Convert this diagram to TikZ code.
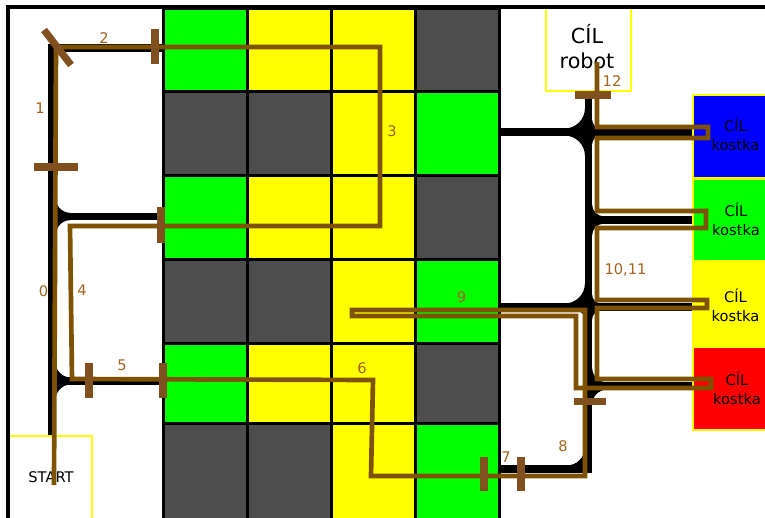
\documentclass[tikz,border=0pt]{standalone}
\usepackage{fontspec}
\setmainfont{DejaVu Sans}
\usetikzlibrary{calc}
\definecolor{cellgray}{HTML}{4D4D4D}
\definecolor{cellgreen}{rgb}{0,1,0}
\definecolor{cellyellow}{rgb}{1,1,0}
\definecolor{goalblue}{rgb}{0,0,1}
\definecolor{goalred}{rgb}{1,0,0}
\definecolor{routebrown}{HTML}{7F5200}
\definecolor{tickbrown}{HTML}{80501E}
\definecolor{labelbrown}{HTML}{A0641E}
\tikzset{
    cell/.style={draw=black, line width=2.25pt},
    track/.style={black, line width=5.4pt},
    route/.style={routebrown, line width=3.5pt, line join=miter},
    tick/.style={tickbrown, line width=5.4pt},
    frame/.style={black, line width=2.4pt},
    target/.style={draw=cellyellow, line width=1.9pt, minimum width=63pt, minimum height=62pt, inner sep=0pt, outer sep=0pt},
    caption/.style={inner sep=0pt, align=center, font=\fontsize{11}{14.25}\selectfont},
    num/.style={labelbrown, inner sep=0pt, font=\fontsize{11}{13}\selectfont}
}

\begin{document}
\begin{tikzpicture}[x=0.75pt, y=-0.75pt]
    \useasboundingbox (0,0) rectangle (765,518);
    \fill[white] (0,0) rectangle (765,518);

    % hraci plocha
    \foreach \top/\bot/\ca/\cb/\cc/\cd in {8/91/cellgreen/cellyellow/cellyellow/cellgray,
        91/175/cellgray/cellgray/cellyellow/cellgreen, 175/259/cellgreen/cellyellow/cellyellow/cellgray,
        259/343/cellgray/cellgray/cellyellow/cellgreen, 343/423/cellgreen/cellyellow/cellyellow/cellgray,
        423/519/cellgray/cellgray/cellyellow/cellgreen}
        \foreach \lft/\rgt/\col in {163/247/\ca, 247/331/\cb, 331/415/\cc, 415/499/\cd}
            \draw[cell, fill=\col] (\lft,\top) rectangle (\rgt,\bot);

    % cara na plose
    \coordinate (TL) at (52,48);
    \coordinate (TR) at (163,48);
    \coordinate (ML) at (52,216.5);
    \coordinate (MR) at (163,216.5);
    \coordinate (BL) at (52,381);
    \coordinate (BR) at (163,381);
    \coordinate (SL) at (52,436);
    \coordinate (R0) at (588.5,97);
    \coordinate (R1) at (588.5,132);
    \coordinate (R2) at (588.5,220);
    \coordinate (R3) at (588.5,307);
    \coordinate (R4) at (588.5,386);
    \coordinate (R5) at (588.5,473);
    \draw[track] (SL) -- (TL) -- (TR);
    \draw[track] (ML) -- (MR);
    \draw[track] (BL) -- (BR);
    \draw[track] (R0) -- (R5);
    \draw[track] (500,132) -- (692,132);
    \draw[track] (R2) -- (692,220);
    \draw[track] (500,307) -- (692,307);
    \draw[track] (R4) -- (692,386);
    \draw[track] (500,469) -- (592,469);
    % zaobleni krizovatek
    \foreach \x/\y/\sx/\sy/\r in {52/48/1/1/8, 52/216.5/1/-1/15, 52/216.5/1/1/15,
        52/381/1/-1/15, 52/381/1/1/15,
        588.5/132/-1/-1/20, 588.5/132/1/-1/9, 588.5/132/-1/1/20, 588.5/132/1/1/9,
        588.5/220/1/-1/12, 588.5/220/1/1/12,
        588.5/307/-1/-1/20, 588.5/307/1/-1/9, 588.5/307/-1/1/9, 588.5/307/1/1/9,
        588.5/386/1/-1/15, 588.5/386/1/1/15, 588.5/469/-1/-1/18}
        \fill[black] ($(\x,\y)+(\sx*3.6,\sy*3.6)$) -- ++(\sx*\r,0)
            .. controls +(-\sx*\r*0.55,0) and +(0,-\sy*\r*0.55) .. ($(\x,\y)+(\sx*3.6,\sy*3.6+\sy*\r)$) -- cycle;

    % cile
    \node[target, minimum width=63.75pt] (robot) at (588.5,49.5) {};
    \node[target, fill=goalblue] (kBlue) at (735,136.5) {};
    \node[target, fill=cellgreen] (kGreen) at (735,220) {};
    \node[target, fill=cellyellow] (kYellow) at (735,304.5) {};
    \node[target, fill=goalred] (kRed) at (735,388.5) {};
    \node[target, minimum height=66pt, anchor=north west] (start) at (8,436) {};
    \node[caption, font=\fontsize{15.5}{18.2}\selectfont] (tRobot) at (587,46.5) {CÍL\\robot};
    \node[caption] (tBlue) at (735.5,134.5) {CÍL\\kostka};
    \node[caption] (tGreen) at (736,219.5) {CÍL\\kostka};
    \node[caption] (tYellow) at (735.5,305.5) {CÍL\\kostka};
    \node[caption] (tRed) at (737,388.5) {CÍL\\kostka};
    \node[caption] (tStart) at (51,477) {START};

    % ramecek
    \draw[frame] (8,519) -- (8,7) -- (766,7);

    % trasa robota
    \draw[route] (54,485) -- (56,47) -- (380,47) -- (380,226) -- (70,226) -- (72,379)
        -- (373,380) -- (371,476) -- (585,476) -- (585,310) -- (352,310) -- (352,316)
        -- (576,316) -- (576,388) -- (711,388) -- (711,379) -- (597,379) -- (597,308)
        -- (707,308) -- (707,300) -- (597,300) -- (597,228) -- (706,228) -- (706,211)
        -- (597,211) -- (597,138) -- (708,138) -- (708,127) -- (597,127) -- (597,62);

    % znacky
    \foreach \xa/\ya/\xb/\yb in {34/167/78/167, 44/30/71/65, 155/29/155/64, 161/207/161/243,
        89/363/89/398, 163/363/163/398, 484/457/484/491, 521/457/521/491,
        574/401.5/606/401.5, 575/95/611/95}
        \draw[tick] (\xa,\ya) -- (\xb,\yb);

    % cisla useku
    \foreach \x/\y/\txt/\nm in {43.5/291/0/n0, 40/108/1/n1, 104/38/2/n2, 392/131/3/n3, 82/290/4/n4,
        122/365/5/n5, 362/368/6/n6, 506/457/7/n7, 563/446/8/n8, 461.5/297/9/n9,
        625.5/270/{10,11}/n10, 612/81/12/n12}
        \node[num] (\nm) at (\x,\y) {\txt};
\end{tikzpicture}
\end{document}
